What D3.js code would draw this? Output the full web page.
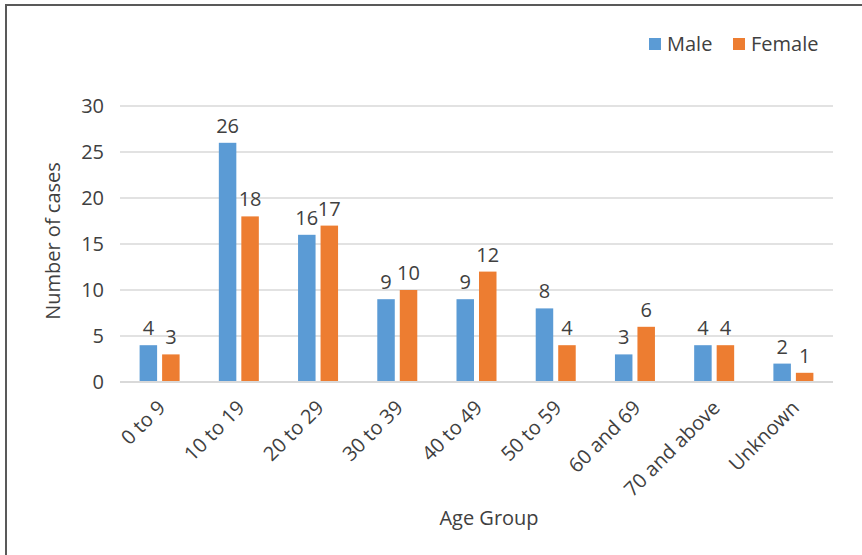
<!DOCTYPE html>
<html>
<head>
<meta charset="utf-8">
<script src="https://cdn.jsdelivr.net/npm/d3@7"></script>
<style>
  html, body { margin: 0; padding: 0; background: #fff; }
  svg { display: block; font-family: "Open Sans", sans-serif; }
</style>
</head>
<body>
<svg id="chart" width="862" height="555"></svg>
<script>
const categories = ["0 to 9", "10 to 19", "20 to 29", "30 to 39", "40 to 49", "50 to 59", "60 and 69", "70 and above", "Unknown"];
const maleCases = [4, 26, 16, 9, 9, 8, 3, 4, 2];
const femaleCases = [3, 18, 17, 10, 12, 4, 6, 4, 1];
const seriesNames = ["Male", "Female"];
const seriesColors = ["#5B9BD5", "#ED7D31"];
const yTicks = [0, 5, 10, 15, 20, 25, 30];

const svg = d3.select("#chart");
const plot = { left: 120, right: 833, top: 106, bottom: 382 };
const textColor = "#404040";
const fs = 20;

// outer frame
svg.append("rect")
  .attr("x", 6).attr("y", 5)
  .attr("width", 900).attr("height", 600)
  .attr("fill", "#fff")
  .attr("stroke", "#595959")
  .attr("stroke-width", 2);

const x = d3.scaleBand().domain(categories).range([plot.left, plot.right]).padding(0);
const y = d3.scaleLinear().domain([0, 30]).range([plot.bottom, plot.top]);
const barW = 17.5, barGap = 5;
const xs = d3.scaleOrdinal().domain(seriesNames)
  .range([-(barGap / 2 + barW), barGap / 2]);

// gridlines
svg.append("g").selectAll("line").data(yTicks.filter(d => d > 0)).join("line")
  .attr("x1", plot.left).attr("x2", plot.right)
  .attr("y1", d => y(d)).attr("y2", d => y(d))
  .attr("stroke", "#d9d9d9").attr("stroke-width", 1.3);

// y tick labels
const yAxis = d3.axisLeft(y).tickValues(yTicks).tickSize(0).tickPadding(16);
const gy = svg.append("g").attr("transform", `translate(${plot.left},0)`).call(yAxis);
gy.select(".domain").remove();
gy.selectAll("text").attr("font-size", fs).attr("fill", textColor)
  .attr("font-family", "Open Sans, sans-serif");

// bars
const rows = categories.map((c, i) => ({ cat: c, values: [maleCases[i], femaleCases[i]] }));
const groups = svg.append("g").selectAll("g").data(rows).join("g")
  .attr("transform", d => `translate(${x(d.cat) + x.bandwidth() / 2},0)`);

groups.selectAll("rect").data(d => d.values.map((v, k) => ({ v, k }))).join("rect")
  .attr("x", d => xs(seriesNames[d.k]))
  .attr("y", d => y(d.v))
  .attr("width", barW)
  .attr("height", d => y(0) - y(d.v))
  .attr("fill", d => seriesColors[d.k]);

groups.selectAll("text").data(d => d.values.map((v, k) => ({ v, k }))).join("text")
  .attr("x", d => xs(seriesNames[d.k]) + barW / 2)
  .attr("y", d => y(d.v) - 10)
  .attr("text-anchor", "middle")
  .attr("font-size", fs)
  .attr("fill", textColor)
  .text(d => d.v);

// x axis line
svg.append("line")
  .attr("x1", plot.left).attr("x2", plot.right)
  .attr("y1", y(0)).attr("y2", y(0))
  .attr("stroke", "#d9d9d9").attr("stroke-width", 2);

// x tick labels, rotated
const xAxis = d3.axisBottom(x).tickSize(0).tickPadding(0);
const gx = svg.append("g").attr("transform", `translate(0,${plot.bottom})`).call(xAxis);
gx.select(".domain").remove();
gx.selectAll("text")
  .attr("font-size", fs).attr("fill", textColor)
  .attr("font-family", "Open Sans, sans-serif")
  .attr("text-anchor", "end")
  .attr("dy", "0")
  .attr("y", 0)
  .attr("transform", "translate(7,27) rotate(-45)");

// axis titles
svg.append("text")
  .attr("x", 489).attr("y", 525)
  .attr("text-anchor", "middle")
  .attr("font-size", fs).attr("fill", textColor)
  .text("Age Group");

svg.append("text")
  .attr("transform", "translate(60,241) rotate(-90)")
  .attr("text-anchor", "middle")
  .attr("font-size", fs).attr("fill", textColor)
  .text("Number of cases");

// legend
const legend = svg.append("g");
const legendX = [649, 733];
seriesNames.forEach((name, k) => {
  legend.append("rect")
    .attr("x", legendX[k]).attr("y", 38)
    .attr("width", 12).attr("height", 12)
    .attr("fill", seriesColors[k]);
  legend.append("text")
    .attr("x", legendX[k] + 18).attr("y", 51)
    .attr("font-size", fs).attr("fill", textColor)
    .text(name);
});
</script>
</body>
</html>
